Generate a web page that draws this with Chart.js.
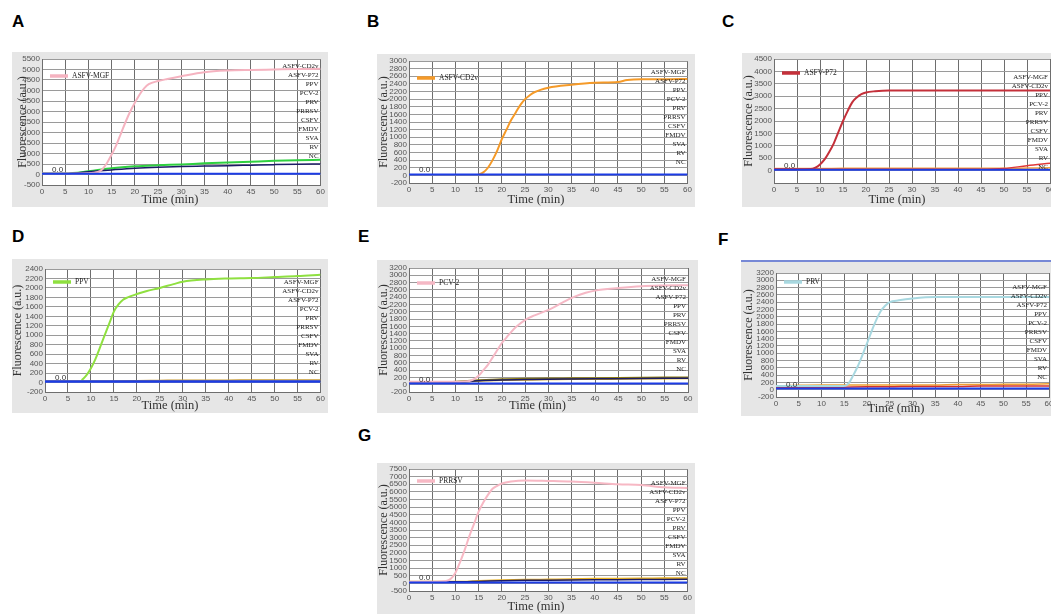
<!DOCTYPE html>
<html><head><meta charset="utf-8">
<script src="https://cdn.jsdelivr.net/npm/chart.js@4/dist/chart.umd.min.js"></script>
<style>
html,body{margin:0;padding:0}
body{width:1051px;height:614px;overflow:hidden;background:#fff;position:relative;font-family:'Liberation Sans',Arial,sans-serif}
.lbl{position:absolute;font-weight:bold;font-size:17px;line-height:17px;color:#000}
</style></head><body>
<div class="lbl" style="left:12px;top:13px">A</div>
<div class="lbl" style="left:367px;top:13px">B</div>
<div class="lbl" style="left:722px;top:13px">C</div>
<div class="lbl" style="left:12px;top:228px">D</div>
<div class="lbl" style="left:358px;top:228px">E</div>
<div class="lbl" style="left:718px;top:231px">F</div>
<div class="lbl" style="left:358px;top:427px">G</div>
<script>
// ---------- shared ----------
const xTicks = [0,5,10,15,20,25,30,35,40,45,50,55,60];
const tNeg = [0,5,10,15,20,25,30,35,40,45,50,55,60];

// ---------- Panel A : ASFV-MGF ----------
const tA   = [0,5,10,12,13,14,15,16,17,18,19,20,21,22,23,25,27,30,35,40,45,50,55,60];
const mgfA = [50,50,60,120,250,550,950,1400,1950,2500,3000,3420,3800,4100,4300,4450,4550,4680,4870,4950,4980,5000,5020,5030];
const greenA = [50,50,150,300,390,440,480,530,570,610,650,680,700];
const navyA  = [50,50,130,220,300,350,380,400,420,445,470,490,500];
const blueA  = [40,40,40,40,40,40,40,40,40,40,40,40,40];
const yTicksA = [-500,0,500,1000,1500,2000,2500,3000,3500,4000,4500,5000,5500];
const namesA = ['ASFV-CD2v','ASFV-P72','PPV','PCV-2','PRV','PRRSV','CSFV','FMDV','SVA','RV','NC'];

// ---------- Panel B : ASFV-CD2v ----------
const tB    = [15,16,17,18,19,20,21,22,23,24,25,26,27,30,35,40,45,47,50,55,60];
const cd2vB = [20,80,200,400,650,950,1200,1450,1650,1850,2000,2100,2180,2300,2380,2430,2450,2500,2520,2520,2530];
const blueB = [20,20,20,20,20,20,20,20,20,20,20,20,20];
const yTicksB = [-200,0,200,400,600,800,1000,1200,1400,1600,1800,2000,2200,2400,2600,2800,3000];
const namesB = ['ASFV-MGF','ASFV-P72','PPV','PCV-2','PRV','PRRSV','CSFV','FMDV','SVA','RV','NC'];

// ---------- Panel C : ASFV-P72 ----------
const tC   = [0,5,8,9,10,11,12,13,14,15,16,17,18,19,20,22,25,30,40,50,60];
const p72C = [50,50,60,120,250,450,750,1100,1550,2000,2400,2750,2950,3080,3150,3200,3230,3230,3230,3230,3230];
const redC    = [50,50,50,50,50,50,50,50,50,50,80,200,300];
const orangeC = [80,80,80,90,90,90,90,90,90,90,90,100,110];
const blueC   = [30,30,30,30,30,30,30,30,30,30,30,30,30];
const yTicksC = [0,500,1000,1500,2000,2500,3000,3500,4000,4500];
const namesC = ['ASFV-MGF','ASFV-CD2v','PPV','PCV-2','PRV','PRRSV','CSFV','FMDV','SVA','RV','NC'];

// ---------- Panel D : PPV ----------
const tD   = [8,9,10,11,12,13,14,15,16,17,18,20,22,25,28,30,35,40,45,50,55,60];
const ppvD = [50,150,300,500,750,1000,1250,1500,1650,1750,1800,1870,1930,2000,2080,2130,2180,2200,2210,2230,2250,2280];
const orangeD = [30,30,30,35,40,45,50,50,50,55,55,55,55];
const blueD   = [20,20,20,20,20,20,20,20,20,20,20,20,20];
const yTicksD = [-200,0,200,400,600,800,1000,1200,1400,1600,1800,2000,2200,2400];
const namesD = ['ASFV-MGF','ASFV-CD2v','ASFV-P72','PCV-2','PRV','PRRSV','CSFV','FMDV','SVA','RV','NC'];

// ---------- Panel E : PCV-2 ----------
const tE    = [0,5,10,13,14,15,16,17,18,19,20,21,22,23,25,27,30,33,35,38,40,45,50,55,60];
const pcv2E = [80,80,80,100,150,250,400,550,750,950,1150,1300,1450,1580,1780,1900,2050,2250,2380,2520,2580,2650,2700,2720,2730];
const oliveE  = [50,50,80,120,150,160,170,175,180,185,190,195,200];
const navyE   = [50,50,70,110,130,140,150,155,160,165,170,175,180];
const yellowE = [50,50,60,100,120,130,140,150,150,155,160,165,170];
const blueE   = [30,30,30,30,30,30,30,30,30,30,30,30,30];
const yTicksE = [-200,0,200,400,600,800,1000,1200,1400,1600,1800,2000,2200,2400,2600,2800,3000,3200];
const namesE = ['ASFV-MGF','ASFV-CD2v','ASFV-P72','PPV','PRV','PRRSV','CSFV','FMDV','SVA','RV','NC'];

// ---------- Panel F : PRV ----------
const tF   = [0,5,10,15,16,17,18,19,20,21,22,23,24,25,27,30,35,40,50,60];
const prvF = [100,100,100,100,180,400,650,950,1270,1600,1900,2150,2300,2400,2450,2500,2540,2540,2540,2540];
const orangeF = [100,120,130,130,130,130,130,130,140,140,150,150,160];
const redF    = [60,60,60,70,80,80,90,90,90,100,100,100,100];
const blueF   = [30,30,30,30,30,30,30,30,30,30,30,30,30];
const yTicksF = [-200,0,200,400,600,800,1000,1200,1400,1600,1800,2000,2200,2400,2600,2800,3000,3200];
const namesF = ['ASFV-MGF','ASFV-CD2v','ASFV-P72','PPV','PCV-2','PRRSV','CSFV','FMDV','SVA','RV','NC'];

// ---------- Panel G : PRRSV ----------
const tG     = [0,5,8,9,10,11,12,13,14,15,16,17,18,19,20,22,25,30,35,40,45,50,55,60];
const prrsvG = [100,100,150,300,700,1400,2200,3100,3900,4700,5300,5800,6200,6400,6550,6680,6750,6720,6680,6600,6500,6450,6300,6250];
const yellowG = [100,100,100,150,200,230,250,270,300,310,320,330,340];
const navyG   = [100,100,100,130,170,200,210,220,230,240,250,260,270];
const blueG   = [50,50,50,50,50,50,50,50,50,50,50,50,50];
const yTicksG = [-500,0,500,1000,1500,2000,2500,3000,3500,4000,4500,5000,5500,6000,6500,7000,7500];
const namesG = ['ASFV-MGF','ASFV-CD2v','ASFV-P72','PPV','PCV-2','PRV','CSFV','FMDV','SVA','RV','NC'];

// ---------- colours ----------
const BLUE = '#1c3ce6';
const S = (name,t,v,color,w,order,main)=>({name,t,v,color,w,order,main});

const panels = [
 {box:[12,52,316,155], plot:[42,59,321,185], ymin:-500, ymax:5500, yTicks:yTicksA, names:namesA, lab0:7, legY:17, yTitlePad:5,
  series:[S('ASFV-MGF',tA,mgfA,'#f5b3c0',2,1,true), S('n1',tNeg,greenA,'#2fd040',2,3), S('n2',tNeg,navyA,'#1b1b66',1.5,2), S('NC',tNeg,blueA,BLUE,2,0)]},
 {box:[377,54,318,153], plot:[409,61,688,183], ymin:-200, ymax:3000, yTicks:yTicksB, names:namesB, lab0:11, legY:17, yTitlePad:1,
  series:[S('ASFV-CD2v',tB,cd2vB,'#f59a28',2,1,true), S('NC',tNeg,blueB,BLUE,2,0)]},
 {box:[742,53,320,154], plot:[774,58,1050,183], ymin:-500, ymax:4500, yTicks:yTicksC, names:namesC, lab0:18, legY:14, yTitlePad:1, xTitleCx:155,
  series:[S('ASFV-P72',tC,p72C,'#c4303a',2,1,true), S('n1',tNeg,redC,'#e03838',1.5,2), S('n2',tNeg,orangeC,'#f5a040',1.5,3), S('NC',tNeg,blueC,BLUE,2,0)]},
 {box:[12,259,316,154], plot:[45,269,322,392], ymin:-200, ymax:2400, yTicks:yTicksD, names:namesD, lab0:13, legY:13, yTitlePad:0,
  series:[S('PPV',tD,ppvD,'#8fe040',2,1,true), S('n1',tNeg,orangeD,'#c89a30',1.5,2), S('NC',tNeg,blueD,BLUE,2.5,0)]},
 {box:[377,260,321,153], plot:[409,268,688,392], ymin:-200, ymax:3200, yTicks:yTicksE, names:namesE, lab0:11, legY:15, yTitlePad:1,
  series:[S('PCV-2',tE,pcv2E,'#f5b8c5',2,1,true), S('n1',tNeg,oliveE,'#8a7a10',2,3), S('n2',tNeg,navyE,'#1b1b66',1.5,2), S('n3',tNeg,yellowE,'#e0b020',1.5,4), S('NC',tNeg,blueE,BLUE,2,0)]},
 {box:[741,260,321,156], plot:[776,273,1049,397], ymin:-200, ymax:3200, yTicks:yTicksF, names:namesF, lab0:14, legY:9, yTitlePad:2, topLine:true, xTitleCx:155,
  series:[S('PRV',tF,prvF,'#a8d8e0',2,1,true), S('n1',tNeg,orangeF,'#f0a030',1.5,3), S('n2',tNeg,redF,'#d03030',1.5,2), S('NC',tNeg,blueF,BLUE,2,0)]},
 {box:[377,463,318,151], plot:[409,468,688,591], ymin:-500, ymax:7500, yTicks:yTicksG, names:namesG, lab0:14, legY:12, yTitlePad:1,
  series:[S('PRRSV',tG,prrsvG,'#f7b8c4',2,1,true), S('n1',tNeg,yellowG,'#e8b020',2,3), S('n2',tNeg,navyG,'#1b1b66',1.5,2), S('NC',tNeg,blueG,BLUE,2,0)]}
];

function makeChart(p){
  const [bx,by,bw,bh] = p.box;
  const [pl,pt,pr,pb] = p.plot;
  const cv = document.createElement('canvas');
  cv.width = bw; cv.height = bh;
  cv.style.cssText = `position:absolute;left:${bx}px;top:${by}px;width:${bw}px;height:${bh}px`;
  document.body.appendChild(cv);
  const yW = pl - bx, xH = by + bh - pb;
  const main = p.series.find(s=>s.main);
  const deco = {
    id:'deco',
    beforeDraw(chart){
      const {ctx, chartArea:a, width, height} = chart;
      ctx.save();
      ctx.fillStyle = '#e6e6e6'; ctx.fillRect(0,0,width,height);
      ctx.fillStyle = '#ffffff'; ctx.fillRect(a.left,a.top,a.right-a.left,a.bottom-a.top);
      if (p.topLine){ ctx.strokeStyle='#5068d0'; ctx.lineWidth=1.5; ctx.beginPath(); ctx.moveTo(0,1); ctx.lineTo(width,1); ctx.stroke(); }
      ctx.restore();
    },
    afterDraw(chart){
      const {ctx, chartArea:a, width, height} = chart;
      ctx.save();
      // x axis title, centred on the grey panel
      ctx.fillStyle = '#333'; ctx.font = '12.5px "Liberation Serif", serif';
      ctx.textAlign = 'center'; ctx.textBaseline = 'middle';
      ctx.fillText('Time (min)', p.xTitleCx || width/2, height-7);
      // legend entry of the positive sample
      const ly = a.top + p.legY;
      ctx.strokeStyle = main.color; ctx.lineWidth = 3.5; ctx.lineCap='butt';
      ctx.beginPath(); ctx.moveTo(a.left+8, ly); ctx.lineTo(a.left+26, ly); ctx.stroke();
      ctx.fillStyle = '#222'; ctx.font = '7.5px "Liberation Serif", serif';
      ctx.textBaseline = 'middle'; ctx.textAlign = 'left';
      ctx.fillText(main.name, a.left+30, ly);
      // names of other samples
      ctx.font = '7px "Liberation Serif", serif'; ctx.textAlign = 'right';
      p.names.forEach((n,i)=> ctx.fillText(n, a.right-2, a.top + p.lab0 + i*9));
      // threshold label
      const y0 = chart.scales.y.getPixelForValue(0);
      ctx.font = '8px "Liberation Sans", Arial, sans-serif'; ctx.textAlign='left'; ctx.textBaseline='alphabetic';
      ctx.fillStyle = '#333';
      ctx.fillText('0.0', a.left+10, y0-3);
      ctx.restore();
    }
  };
  new Chart(cv, {
    type:'line',
    data:{datasets: p.series.map(s=>({
      label:s.name, data:s.t.map((t,i)=>({x:t,y:s.v[i]})),
      borderColor:s.color, borderWidth:s.w, pointRadius:0, cubicInterpolationMode:'monotone',
      fill:false, order:s.order
    }))},
    options:{
      responsive:false, animation:false, devicePixelRatio:1,
      layout:{padding:{top:pt-by, right:bx+bw-pr, left:0, bottom:0}},
      plugins:{legend:{display:false}, tooltip:{enabled:false}},
      scales:{
        x:{type:'linear', min:0, max:60,
           afterBuildTicks:s=>{ s.ticks = xTicks.map(v=>({value:v})); },
           afterFit:s=>{ s.height = xH; },
           grid:{color:'#6e6e6e', drawTicks:false, lineWidth:1},
           border:{color:'#6e6e6e'},
           ticks:{font:{size:8, family:'"Liberation Sans", Arial', lineHeight:1}, color:'#555', padding:3, maxRotation:0, autoSkip:false, callback:v=>String(v)},
           title:{display:false}},
        y:{min:p.ymin, max:p.ymax,
           afterBuildTicks:s=>{ s.ticks = p.yTicks.map(v=>({value:v})); },
           afterFit:s=>{ s.width = yW; },
           grid:{color:'#9a9a9a', drawTicks:false, lineWidth:1},
           border:{color:'#6e6e6e'},
           ticks:{font:{size:8, family:'"Liberation Sans", Arial', lineHeight:1}, color:'#555', padding:2, autoSkip:false, callback:v=>String(v)},
           title:{display:true, text:'Fluorescence (a.u.)', color:'#333', font:{family:'"Liberation Serif", serif', size:12, lineHeight:1}, padding:{top:p.yTitlePad,bottom:0}}}
      }
    },
    plugins:[deco]
  });
}
panels.forEach(makeChart);
</script>
</body></html>
